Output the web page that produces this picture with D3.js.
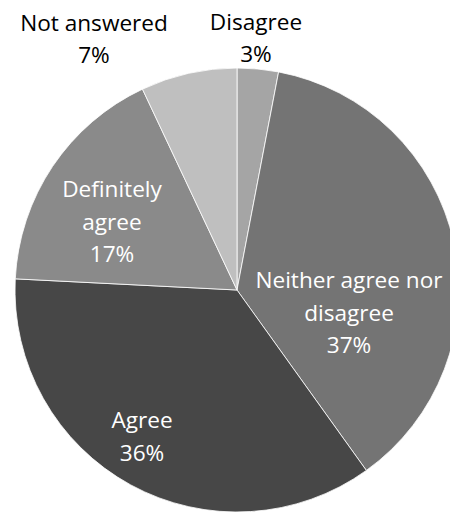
<!DOCTYPE html>
<html>
<head>
<meta charset="utf-8">
<script src="https://cdn.jsdelivr.net/npm/d3@7"></script>
<style>
  html, body { margin: 0; padding: 0; background: #fff; overflow: hidden; }
  svg { display: block; }
</style>
</head>
<body>
<svg id="chart" width="450" height="513"></svg>
<script>
// ---- data ----
const categories = ["Disagree", "Neither agree nor disagree", "Agree", "Definitely agree", "Not answered"];
const values = [3.0, 37.1, 35.7, 17.2, 7.0];
const labelLines = [["Disagree"], ["Neither agree nor", "disagree"], ["Agree"], ["Definitely", "agree"], ["Not answered"]];
const colors = ["#a5a5a5", "#747474", "#474747", "#8a8a8a", "#bfbfbf"];

// ---- layout ----
const W = 450, H = 513;
const cx = 237, cy = 290, R = 222;
// label anchors (centre x, first baseline y) and colours
const labelLayout = [
  { x: 256, y: 29.5, fill: "#000" },
  { x: 349, y: 288, fill: "#fff" },
  { x: 142, y: 428, fill: "#fff" },
  { x: 112, y: 197, fill: "#fff" },
  { x: 94,  y: 30.5, fill: "#000" }
];
const lineH = 32.5;

const svg = d3.select("#chart");
const data = categories.map((c, i) => ({ cat: c, value: values[i], lines: labelLines[i], i }));

const pie = d3.pie().value(d => d.value).sort(null).startAngle(0).endAngle(2 * Math.PI);
const arc = d3.arc().innerRadius(0).outerRadius(R);

const g = svg.append("g").attr("transform", `translate(${cx},${cy})`);
g.selectAll("path").data(pie(data)).join("path")
  .attr("d", arc)
  .attr("fill", d => colors[d.data.i])
  .attr("stroke", "#ffffff")
  .attr("stroke-width", 0.8)
  .attr("stroke-linejoin", "round");

const total = d3.sum(values);
const lbl = svg.append("g")
  .attr("font-family", "'Open Sans', sans-serif")
  .attr("font-size", 22.6)
  .attr("text-anchor", "middle");

data.forEach((d, i) => {
  const L = labelLayout[i];
  const lines = d.lines.concat([Math.round(d.value / total * 100) + "%"]);
  const t = lbl.append("text").attr("fill", L.fill);
  lines.forEach((s, k) => {
    t.append("tspan").attr("x", L.x).attr("y", L.y + k * lineH).text(s);
  });
});
</script>
</body>
</html>
